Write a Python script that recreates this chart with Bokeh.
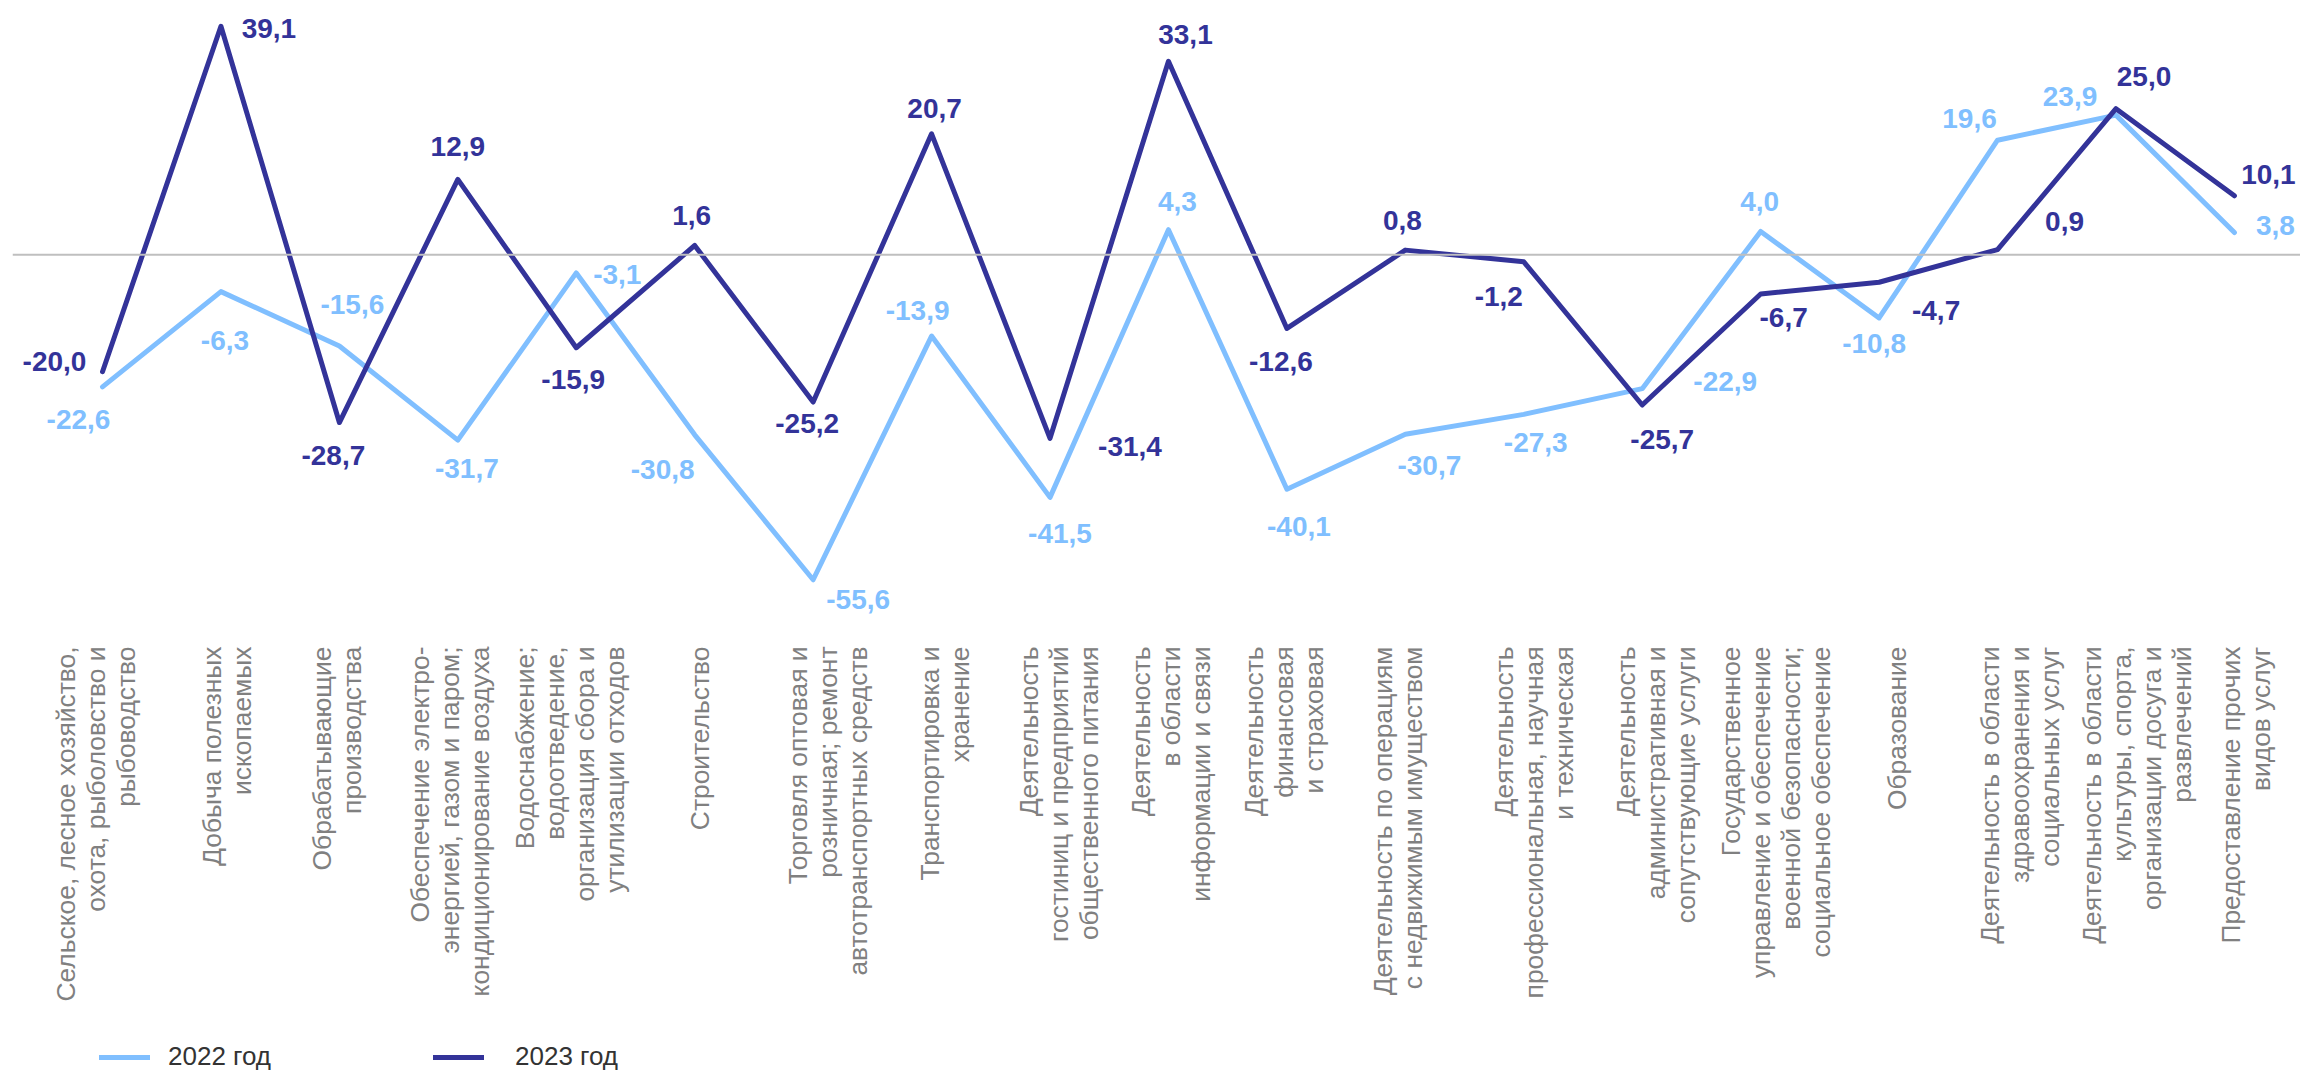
import math
from bokeh.plotting import figure
from bokeh.models import ColumnDataSource, Range1d, Span, Legend, LegendItem
from bokeh.core.properties import value
from bokeh.embed import file_html
from bokeh.resources import INLINE

# ---------------- data ----------------
categories = [
    "Сельское, лесное хозяйство,\nохота, рыболовство и\nрыбоводство",
    "Добыча полезных\nископаемых",
    "Обрабатывающие\nпроизводства",
    "Обеспечение электро-\nэнергией, газом и паром;\nкондиционирование воздуха",
    "Водоснабжение;\nводоотведение,\nорганизация сбора и\nутилизации отходов",
    "Строительство",
    "Торговля оптовая и\nрозничная; ремонт\nавтотранспортных средств",
    "Транспортировка и\nхранение",
    "Деятельность\nгостиниц и предприятий\nобщественного питания",
    "Деятельность\nв области\nинформации и связи",
    "Деятельность\nфинансовая\nи страховая",
    "Деятельность по операциям\nс недвижимым имуществом",
    "Деятельность\nпрофессиональная, научная\nи техническая",
    "Деятельность\nадминистративная и\nсопутствующие услуги",
    "Государственное\nуправление и обеспечение\nвоенной безопасности;\nсоциальное обеспечение",
    "Образование",
    "Деятельность в области\nздравоохранения и\nсоциальных услуг",
    "Деятельность в области\nкультуры, спорта,\nорганизации досуга и\nразвлечений",
    "Предоставление прочих\nвидов услуг",
]
values_2022 = [-22.6, -6.3, -15.6, -31.7, -3.1, -30.8, -55.6, -13.9, -41.5, 4.3,
               -40.1, -30.7, -27.3, -22.9, 4.0, -10.8, 19.6, 23.9, 3.8]
values_2023 = [-20.0, 39.1, -28.7, 12.9, -15.9, 1.6, -25.2, 20.7, -31.4, 33.1,
               -12.6, 0.8, -1.2, -25.7, -6.7, -4.7, 0.9, 25.0, 10.1]
series_names = ["2022 год", "2023 год"]

# ---------------- styles / layout ----------------
LIGHT = "#80BFFF"
DARK = "#333399"
FONT = "Liberation Sans"

W, H = 2300, 1070
PAD_L = 12
PX_PER_X = 118.44
PX_PER_Y = 5.845
X0_PX = 102 - PAD_L           # frame px of first category
ZERO_PX = 254.3               # frame px (from top) of value 0
x_start = -X0_PX / PX_PER_X
x_end = x_start + (W - PAD_L) / PX_PER_X
y_end = ZERO_PX / PX_PER_Y
y_start = y_end - H / PX_PER_Y
cat_label_y = y_end - 646 / PX_PER_Y

# label offsets in screen px (dx, dy) for each point label
off_2022 = [(-24, 33), (4, 49), (13, -41), (9, 28), (41, 2), (-32, 35), (45, 20),
            (-14, -26), (10, 36), (9, -28), (12, 37), (24, 31), (12, 28), (83, -7),
            (-1, -30), (-5, 26), (-28, -22), (-46, -19), (41, -7)]
off_2023 = [(-48, -10), (48, 2), (-6, 33), (0, -33), (-3, 32), (-3, -30), (-6, 21),
            (3, -25), (80, 8), (17, -27), (-6, 33), (-3, -30), (-25, 35), (20, 34),
            (23, 24), (57, 28), (67, -28), (28, -32), (34, -21)]
# horizontal nudges (px) of the rotated category labels
cat_dx = [-7, 6, -2, -8, -6, 5, 15, 13, 9, 3, -3, -7, 10, 14, 15, 18, 22, 21, 12]

idx = list(range(len(categories)))

p = figure(width=W, height=H, x_range=Range1d(x_start, x_end), y_range=Range1d(y_start, y_end),
           output_backend="svg", toolbar_location=None, x_axis_type=None, y_axis_type=None,
           min_border_left=PAD_L, min_border_right=0, min_border_top=0, min_border_bottom=0,
           outline_line_color=None, background_fill_color="white", border_fill_color="white")
p.grid.visible = False

p.add_layout(Span(location=0, dimension="width", line_color="#BFBFBF", line_width=2))

r22 = p.line(idx, values_2022, line_color=LIGHT, line_width=5, line_cap="round", line_join="round")
r23 = p.line(idx, values_2023, line_color=DARK, line_width=5, line_cap="round", line_join="round")


def fmt(v):
    return f"{v:.1f}".replace(".", ",")


for vals, offs, col in ((values_2022, off_2022, LIGHT), (values_2023, off_2023, DARK)):
    src = ColumnDataSource(dict(x=idx, y=vals, t=[fmt(v) for v in vals],
                                dx=[o[0] for o in offs], dy=[o[1] for o in offs]))
    p.text(x="x", y="y", text="t", x_offset="dx", y_offset="dy", source=src,
           text_align="center", text_baseline="middle", text_font=value(FONT),
           text_font_style="bold", text_font_size="28px", text_color=col)

csrc = ColumnDataSource(dict(x=idx, y=[cat_label_y] * len(idx), t=categories, dx=cat_dx))
p.text(x="x", y="y", text="t", x_offset="dx", source=csrc, angle=math.pi / 2,
       text_align="right", text_baseline="middle", text_font=value(FONT),
       text_font_size="26.4px", text_color="#808080", text_line_height=1.0)

legend_specs = [(series_names[0], r22, 87, 18), (series_names[1], r23, 421, 31)]
for name, rend, lx, standoff in legend_specs:
    lg = Legend(items=[LegendItem(label=name, renderers=[rend])],
                orientation="horizontal", location=(lx, -2), glyph_width=51, glyph_height=20,
                label_height=20, label_standoff=standoff, padding=0, margin=0,
                border_line_alpha=0, background_fill_alpha=0, label_text_font=FONT,
                label_text_font_size="26px", label_text_color="#333333")
    p.add_layout(lg)

open("out.html", "w").write(file_html(p, INLINE))
